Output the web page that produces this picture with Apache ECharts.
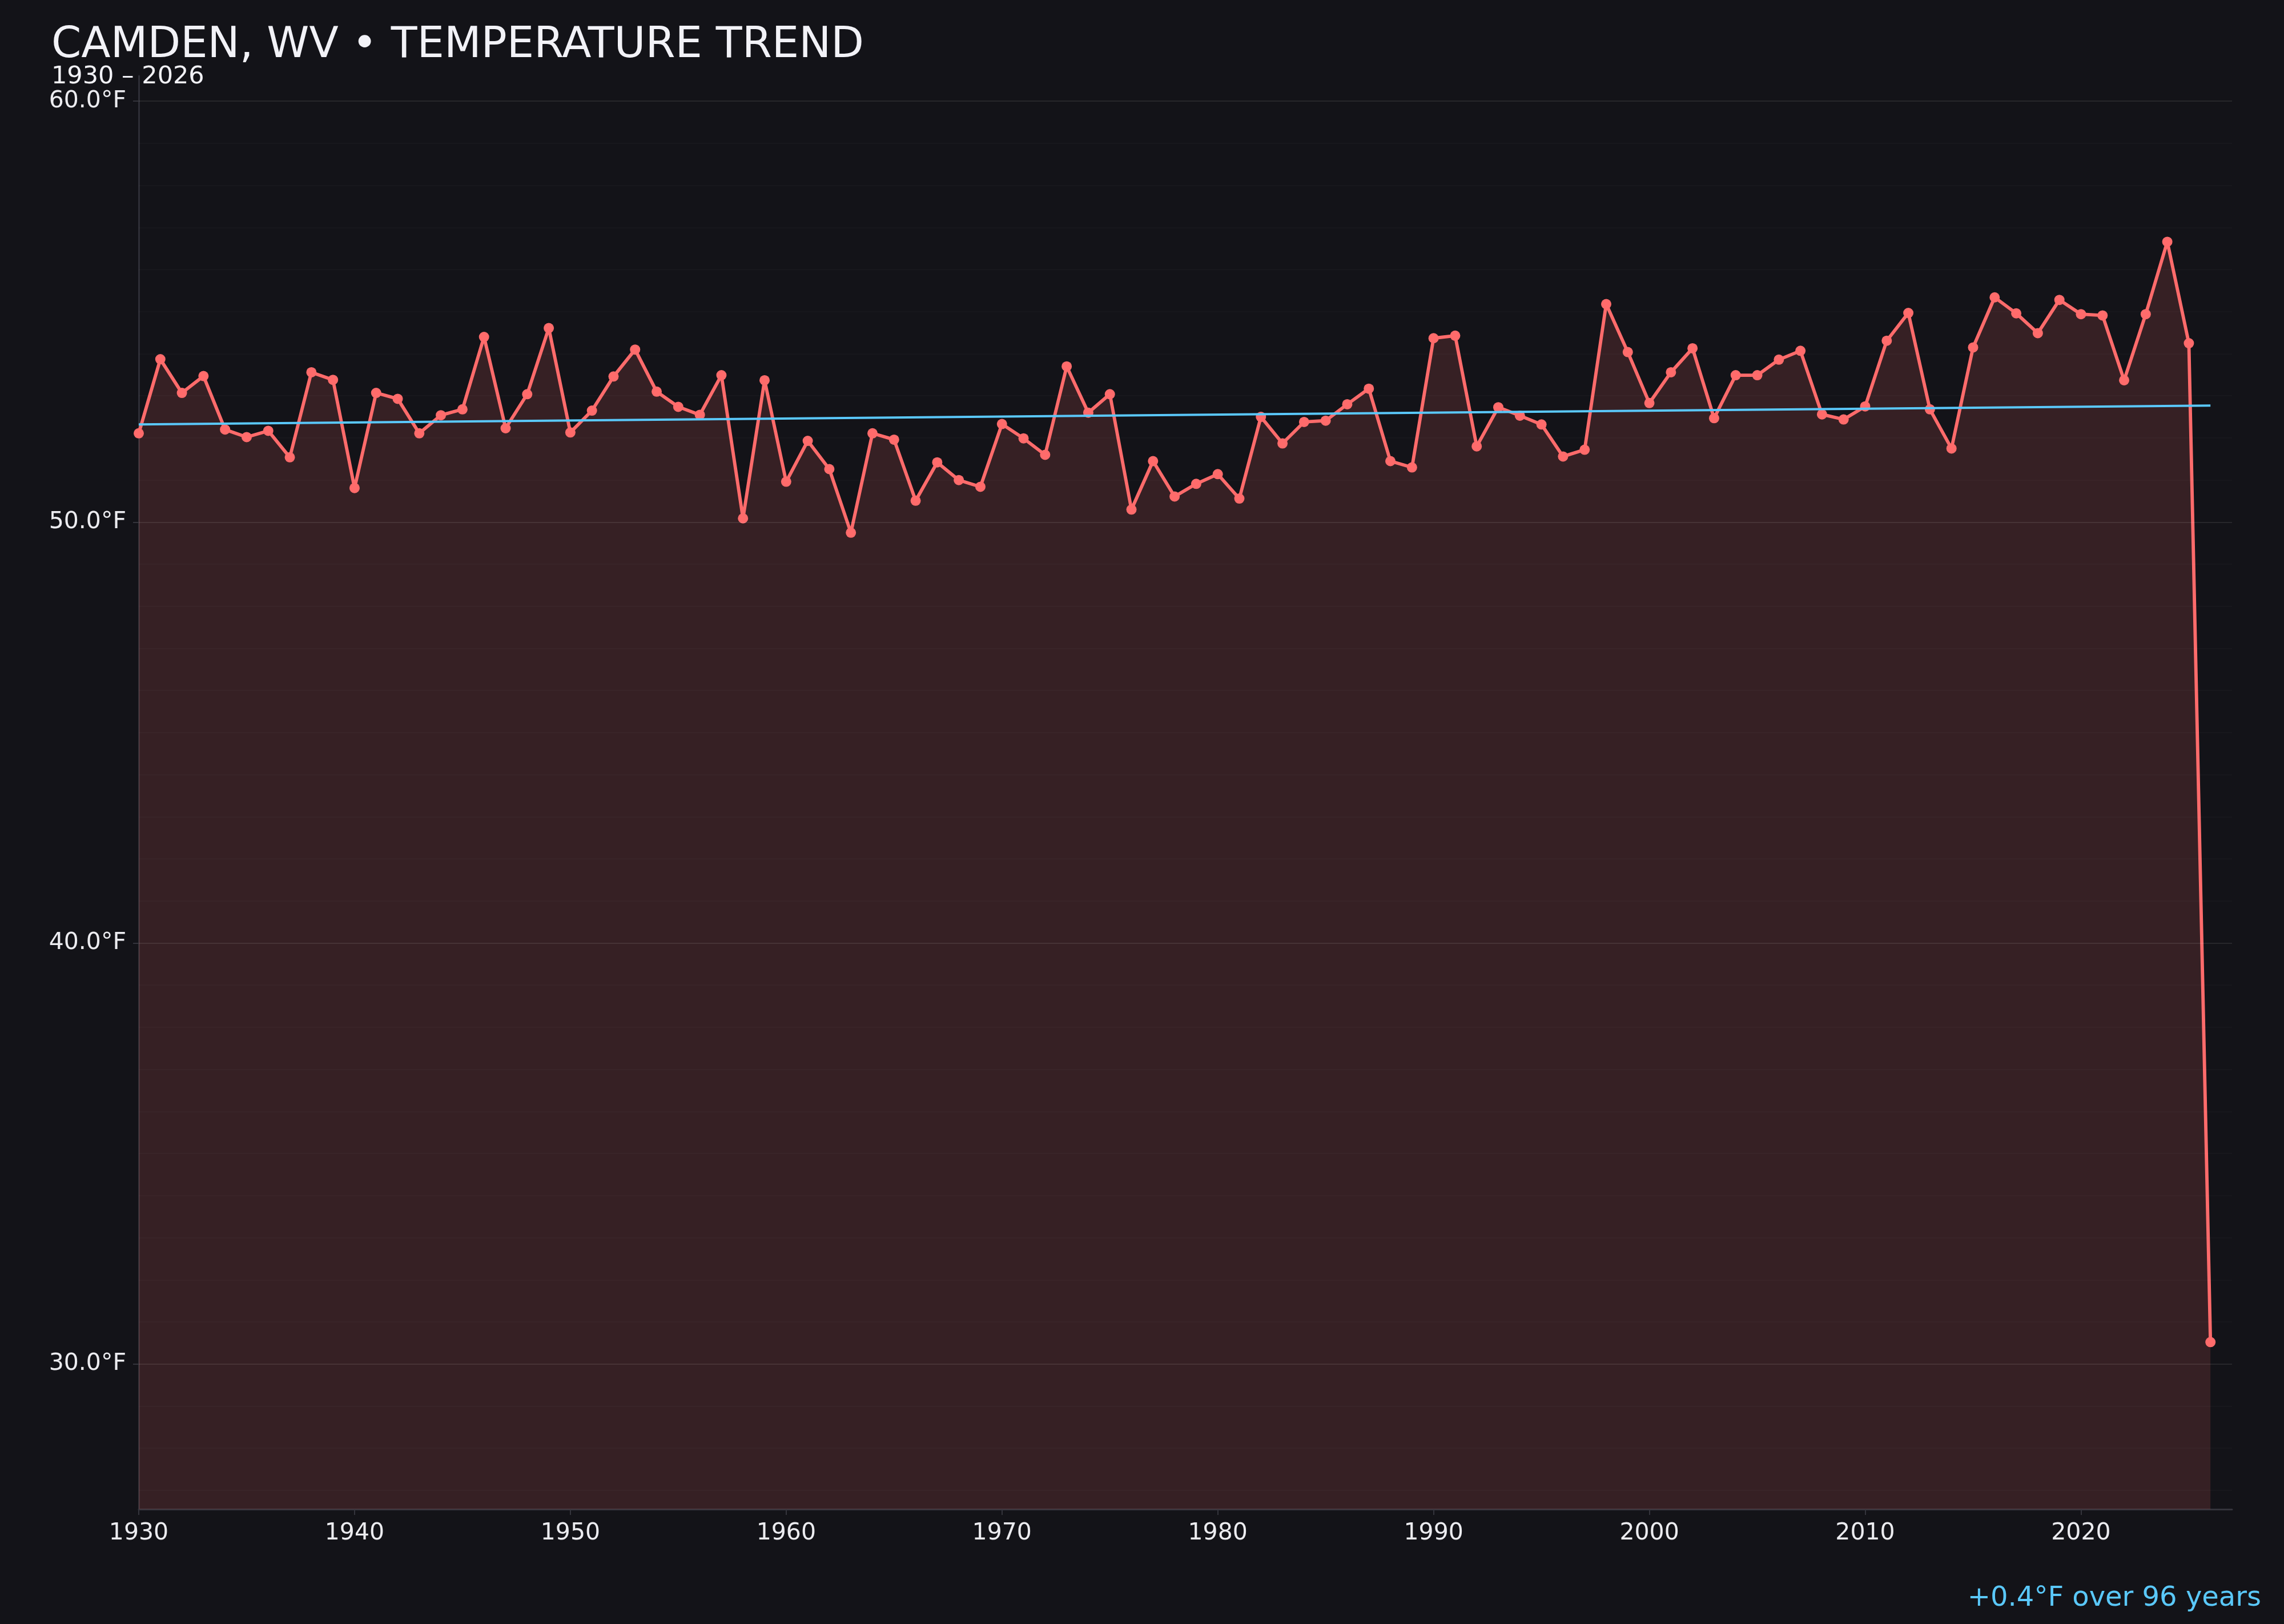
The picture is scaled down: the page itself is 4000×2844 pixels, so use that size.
<!DOCTYPE html>
<html>
<head>
<meta charset="utf-8">
<script src="https://cdn.jsdelivr.net/npm/echarts@6/dist/echarts.min.js"></script>
<style>
  html, body { margin: 0; padding: 0; background: #131318; }
  #main { width: 4000px; height: 2844px; }
</style>
</head>
<body>
<div id="main"></div>
<script>
// yearly mean temperature
const years = [
  1930, 1931, 1932, 1933, 1934, 1935, 1936, 1937, 1938, 1939,
  1940, 1941, 1942, 1943, 1944, 1945, 1946, 1947, 1948, 1949,
  1950, 1951, 1952, 1953, 1954, 1955, 1956, 1957, 1958, 1959,
  1960, 1961, 1962, 1963, 1964, 1965, 1966, 1967, 1968, 1969,
  1970, 1971, 1972, 1973, 1974, 1975, 1976, 1977, 1978, 1979,
  1980, 1981, 1982, 1983, 1984, 1985, 1986, 1987, 1988, 1989,
  1990, 1991, 1992, 1993, 1994, 1995, 1996, 1997, 1998, 1999,
  2000, 2001, 2002, 2003, 2004, 2005, 2006, 2007, 2008, 2009,
  2010, 2011, 2012, 2013, 2014, 2015, 2016, 2017, 2018, 2019,
  2020, 2021, 2022, 2023, 2024, 2025, 2026
];
const temps = [
  52.11, 53.87, 53.07, 53.47, 52.20, 52.02, 52.17, 51.54, 53.56, 53.38,
  50.81, 53.07, 52.93, 52.11, 52.54, 52.68, 54.40, 52.23, 53.04, 54.61,
  52.13, 52.65, 53.46, 54.10, 53.10, 52.74, 52.55, 53.49, 50.09, 53.37,
  50.96, 51.93, 51.26, 49.75, 52.11, 51.96, 50.51, 51.42, 51.00, 50.84,
  52.33, 51.99, 51.60, 53.70, 52.60, 53.04, 50.30, 51.45, 50.61, 50.91,
  51.14, 50.56, 52.50, 51.87, 52.38, 52.41, 52.80, 53.17, 51.45, 51.30,
  54.37, 54.43, 51.80, 52.73, 52.53, 52.32, 51.56, 51.72, 55.18, 54.04,
  52.83, 53.56, 54.13, 52.47, 53.49, 53.49, 53.86, 54.07, 52.56, 52.44,
  52.75, 54.31, 54.97, 52.68, 51.75, 54.15, 55.34, 54.96, 54.49, 55.28,
  54.94, 54.91, 53.37, 54.94, 56.66, 54.25, 30.52
];
// trend line end points
const trendYears = [1930, 2026];
const trendTemps = [52.32, 52.77];

// ticks and grid lines
const xTicks = [1930, 1940, 1950, 1960, 1970, 1980, 1990, 2000, 2010, 2020];
const yTicks = [30, 40, 50, 60];
const yMinor = [27, 28, 29, 31, 32, 33, 34, 35, 36, 37, 38, 39, 41, 42, 43, 44,
  45, 46, 47, 48, 49, 51, 52, 53, 54, 55, 56, 57, 58, 59];

const FONT = 'DejaVu Sans';
const RED = '#ff6b6b';
const BLUE = '#5ac8fa';

var myChart = echarts.init(document.getElementById('main'), null, { renderer: 'canvas', devicePixelRatio: 1 });

var lineData = [];
for (var i = 0; i < years.length; i++) {
  lineData.push([years[i], temps[i]]);
}
var trendData = [];
for (var j = 0; j < trendYears.length; j++) {
  trendData.push([trendYears[j], trendTemps[j]]);
}
var gridLines = [];
yMinor.forEach(function (v) {
  gridLines.push({ yAxis: v, lineStyle: { color: 'rgba(255,255,255,0.018)', width: 2, type: 'solid' } });
});
yTicks.forEach(function (v) {
  gridLines.push({ yAxis: v, lineStyle: { color: 'rgba(255,255,255,0.085)', width: 2, type: 'solid' } });
});

const option = {
  backgroundColor: '#131318',
  animation: false,
  title: [
    {
      text: 'CAMDEN, WV • TEMPERATURE TREND',
      left: 90, top: 43, padding: 0,
      textStyle: { fontFamily: FONT, fontSize: 75, fontWeight: 'normal', color: '#f2f2f7' }
    },
    {
      text: '1930 – 2026',
      left: 90, top: 113, padding: 0,
      textStyle: { fontFamily: FONT, fontSize: 43, fontWeight: 'normal', color: '#f2f2f7' }
    },
    {
      text: '+0.4°F over 96 years',
      right: 40, bottom: 20, padding: 0,
      textStyle: { fontFamily: FONT, fontSize: 48, fontWeight: 'normal', color: BLUE }
    }
  ],
  grid: { left: 243, right: 91, top: 133, bottom: 201, containLabel: false },
  xAxis: {
    type: 'value',
    min: 1930,
    max: 2027,
    axisLine: { show: true, lineStyle: { color: '#34343c', width: 3 } },
    axisTick: { show: true, customValues: xTicks, length: 10, lineStyle: { color: '#34343c', width: 2 } },
    axisLabel: {
      customValues: xTicks, margin: 22, color: '#ececf0', fontSize: 41, fontFamily: FONT,
      formatter: function (v) { return String(v); }
    },
    splitLine: { show: false }
  },
  yAxis: {
    type: 'value',
    min: 26.55,
    max: 60.6,
    axisLine: { show: true, lineStyle: { color: '#2e2e36', width: 3 } },
    axisTick: { show: true, customValues: yTicks, length: 10, lineStyle: { color: '#34343c', width: 2 } },
    axisLabel: {
      customValues: yTicks, margin: 22, color: '#ececf0', fontSize: 41, fontFamily: FONT,
      formatter: function (v) { return v.toFixed(1) + '°F'; }
    },
    splitLine: { show: false }
  },
  series: [
    {
      // horizontal grid lines
      type: 'line',
      data: [],
      silent: true,
      z: 1,
      markLine: {
        silent: true,
        symbol: 'none',
        label: { show: false },
        emphasis: { disabled: true },
        data: gridLines
      }
    },
    {
      name: 'temp',
      type: 'line',
      data: lineData,
      z: 3,
      symbol: 'circle',
      symbolSize: 18,
      showSymbol: true,
      lineStyle: { color: RED, width: 5.8 },
      itemStyle: { color: RED },
      areaStyle: { color: 'rgba(255,107,107,0.15)', opacity: 1, origin: 'start' }
    },
    {
      name: 'trend',
      type: 'line',
      data: trendData,
      z: 4,
      symbol: 'none',
      lineStyle: { color: BLUE, width: 4 }
    }
  ]
};
myChart.setOption(option);
</script>
</body>
</html>
